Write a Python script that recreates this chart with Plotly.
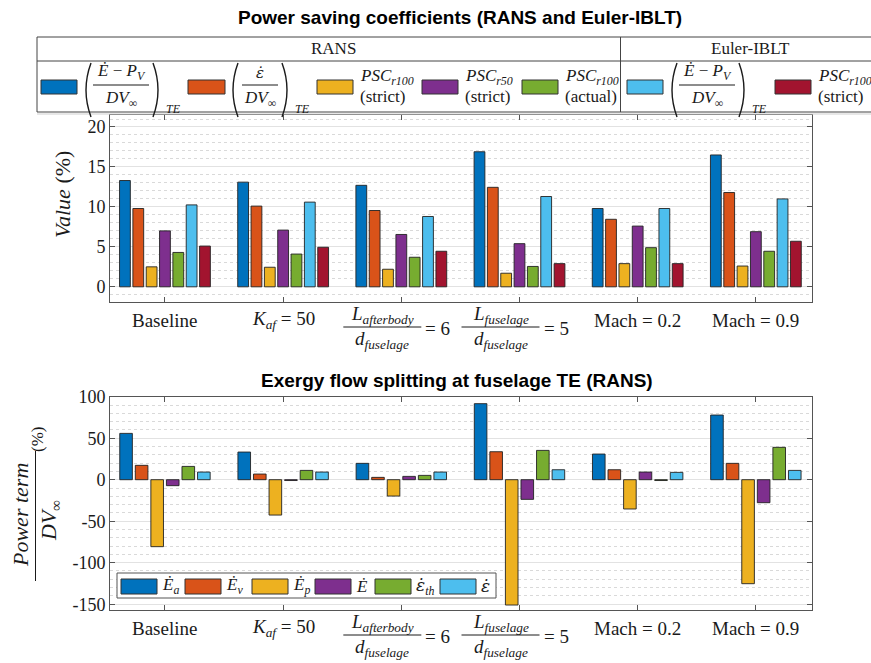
import plotly.graph_objects as go

# ---------------- data ----------------
categories = ["Baseline", "K_af = 50", "L_afterbody/d_fuselage = 6",
              "L_fuselage/d_fuselage = 5", "Mach = 0.2", "Mach = 0.9"]
cat_pos = [1, 2, 3, 4, 5, 6]

# top chart: power saving coefficients (%)
rans_e_minus_pv = [13.3, 13.1, 12.7, 16.9, 9.8, 16.5]
rans_eps = [9.8, 10.1, 9.55, 12.45, 8.45, 11.8]
rans_psc_r100_strict = [2.5, 2.45, 2.2, 1.7, 2.9, 2.6]
rans_psc_r50_strict = [7.0, 7.1, 6.55, 5.4, 7.6, 6.9]
rans_psc_r100_actual = [4.3, 4.1, 3.7, 2.55, 4.9, 4.45]
euler_e_minus_pv = [10.25, 10.6, 8.8, 11.3, 9.8, 11.0]
euler_psc_r100_strict = [5.1, 4.95, 4.45, 2.9, 2.9, 5.7]

# bottom chart: exergy flow splitting at fuselage TE (%)
Ea = [55.8, 33.3, 19.7, 91.6, 30.9, 77.9]
Ev = [17.3, 6.8, 2.8, 33.7, 12.0, 19.7]
Ep = [-80.7, -42.6, -19.7, -151.0, -35.3, -125.3]
Edot = [-7.2, -1.0, 4.0, -23.7, 9.2, -27.7]
eps_th = [16.0, 11.2, 5.2, 35.3, -1.0, 39.0]
eps = [9.2, 9.2, 9.2, 12.0, 8.8, 11.2]

top_yticks = [0, 5, 10, 15, 20]
bot_yticks = [-150, -100, -50, 0, 50, 100]
bot_yticklabels = ["-150", "-100", "-50", "0", "50", "100"]

# tick-label specs (simple text or fraction)
tick_labels = [
    {"text": "Baseline"},
    {"text": "<i>K<sub>af</sub></i> = 50"},
    {"num": "<i>L<sub>afterbody</sub></i>", "den": "<i>d<sub>fuselage</sub></i>", "eq": "= 6"},
    {"num": "<i>L<sub>fuselage</sub></i>", "den": "<i>d<sub>fuselage</sub></i>", "eq": "= 5"},
    {"text": "Mach = 0.2"},
    {"text": "Mach = 0.9"},
]

colors = ["#0072BD", "#D95319", "#EDB120", "#7E2F8E", "#77AC30", "#4DBEEE", "#A2142F"]

# ---------------- helpers ----------------
W, H = 871, 663
SERIF = "Liberation Serif"
SANS = "Liberation Sans"
TXT = "#1a1a1a"
EPS = '<span style="font-family:DejaVu Serif">ε\u0307</span>'


def X(px):
    return px / W


def Y(py):
    return 1 - py / H


fig = go.Figure()

top_series = [rans_e_minus_pv, rans_eps, rans_psc_r100_strict, rans_psc_r50_strict,
              rans_psc_r100_actual, euler_e_minus_pv, euler_psc_r100_strict]
for vals, c in zip(top_series, colors):
    fig.add_trace(go.Bar(x=cat_pos, y=vals, marker=dict(color=c, line=dict(color="#222", width=0.9)),
                         xaxis="x", yaxis="y", showlegend=False, hoverinfo="skip"))

bot_series = [Ea, Ev, Ep, Edot, eps_th, eps]
for vals, c in zip(bot_series, colors[:6]):
    fig.add_trace(go.Bar(x=cat_pos, y=vals, marker=dict(color=c, line=dict(color="#222", width=0.9)),
                         xaxis="x2", yaxis="y2", showlegend=False, hoverinfo="skip"))

shapes = []
annotations = []


def ann(text, x, y, size=16, family=SERIF, xanchor="center", yanchor="middle",
        xref="paper", yref="paper", xshift=0, textangle=0, color=TXT):
    annotations.append(dict(text=text, x=x, y=y, xref=xref, yref=yref, xanchor=xanchor,
                            yanchor=yanchor, showarrow=False, xshift=xshift, textangle=textangle,
                            font=dict(family=family, size=size, color=color)))


def hline(x0, x1, y, color=TXT, width=1):
    shapes.append(dict(type="line", xref="paper", yref="paper", x0=X(x0), x1=X(x1),
                       y0=Y(y), y1=Y(y), line=dict(color=color, width=width)))


def vline(x, y0, y1, color=TXT, width=1):
    shapes.append(dict(type="line", xref="paper", yref="paper", x0=X(x), x1=X(x),
                       y0=Y(y0), y1=Y(y1), line=dict(color=color, width=width)))


def swatch(x0, x1, y0, y1, color):
    shapes.append(dict(type="rect", xref="paper", yref="paper", x0=X(x0), x1=X(x1),
                       y0=Y(y1), y1=Y(y0), fillcolor=color, line=dict(color="#333", width=1)))


def paren(xa, xb, y0, y1):
    ym = (y0 + y1) / 2
    path = f"M {X(xa)},{Y(y0)} Q {X(xb)},{Y(ym)} {X(xa)},{Y(y1)}"
    shapes.append(dict(type="path", xref="paper", yref="paper", path=path,
                       line=dict(color=TXT, width=1.4)))


# ---------------- axes ----------------
axis_common = dict(showline=True, linecolor="#555", linewidth=1, mirror="ticks",
                   ticks="inside", tickcolor="#555", ticklen=5, zeroline=False,
                   automargin=False)

fig.update_layout(
    template="none",
    width=W, height=H, margin=dict(l=0, r=0, t=0, b=0, pad=0), autosize=False,
    paper_bgcolor="white", plot_bgcolor="white", showlegend=False,
    barmode="group", bargap=0.21, bargroupgap=0.19,
    xaxis=dict(domain=[X(110), X(812)], range=[0.535, 6.475], tickvals=cat_pos,
               showticklabels=False, showgrid=False, anchor="y", **axis_common),
    yaxis=dict(domain=[Y(302), Y(115)], range=[-1.9, 21.5], tickvals=top_yticks,
               tickfont=dict(family=SERIF, size=18, color=TXT), showgrid=True,
               gridcolor="#e2e2e2", gridwidth=1, anchor="x",
               minor=dict(dtick=1, tick0=0, showgrid=True, gridcolor="#d9d9d9",
                          griddash="dot", ticks=""),
               **axis_common),
    xaxis2=dict(domain=[X(110), X(812)], range=[0.535, 6.475], tickvals=cat_pos,
                showticklabels=False, showgrid=False, anchor="y2", **axis_common),
    yaxis2=dict(domain=[Y(610), Y(396.7)], range=[-157, 100], tickvals=bot_yticks,
                ticktext=bot_yticklabels,
                tickfont=dict(family=SERIF, size=18, color=TXT), showgrid=True,
                gridcolor="#e2e2e2", gridwidth=1, anchor="x2",
                minor=dict(dtick=10, tick0=0, showgrid=True, gridcolor="#d9d9d9",
                           griddash="dot", ticks=""),
                **axis_common),
)

# ---------------- titles ----------------
ann("<b>Power saving coefficients (RANS and Euler-IBLT)</b>", X(460), Y(17), size=19, family=SANS, color="#000")
ann("<b>Exergy flow splitting at fuselage TE (RANS)</b>", X(457), Y(381), size=19, family=SANS, color="#000")

# ---------------- y-axis titles ----------------
ann("<i>Value</i> (%)", X(62), Y(195), size=22, textangle=-90)
ann("<i>Power term</i>", X(20), Y(515), size=22, textangle=-90)
vline(35.5, 451, 581, width=1)
ann("<i>DV</i><sub>∞</sub>", X(50), Y(521), size=22, textangle=-90)
ann("(%)", X(37), Y(440), size=17, textangle=-90)

# ---------------- category tick labels ----------------
for xref, base in (("x", 320), ("x2", 628)):
    for pos, spec in zip(cat_pos, tick_labels):
        if "text" in spec:
            ann(spec["text"], pos, Y(base), size=19, xref=xref)
        else:
            ann(spec["num"], pos, Y(base - 5), size=19, xref=xref, xshift=-19)
            shapes.append(dict(type="line", xref=xref, xsizemode="pixel", xanchor=pos,
                               x0=-58, x1=20, yref="paper", y0=Y(base + 7), y1=Y(base + 7),
                               line=dict(color=TXT, width=1)))
            ann(spec["den"], pos, Y(base + 20), size=19, xref=xref, xshift=-19)
            ann(spec["eq"], pos, Y(base + 8), size=19, xref=xref, xshift=22, xanchor="left")

# ---------------- top legend (table) ----------------
shapes.append(dict(type="rect", xref="paper", yref="paper", x0=X(37), x1=X(880),
                   y0=Y(112), y1=Y(37), fillcolor="white", line=dict(color="#444", width=1)))
hline(37, 880, 61, color="#444")
vline(620.5, 37, 112, color="#444")
hline(37, 880, 114, color="#cfcfcf")
ann("RANS", X(333), Y(49), size=17)
ann("Euler-IBLT", X(750), Y(49), size=17)


def e_formula(dx, color):
    swatch(41 + dx, 77 + dx, 80, 94, color)
    paren(91 + dx, 81 + dx, 63, 117)
    ann("<i>Ė</i> − <i>P<sub>V</sub></i>", X(121 + dx), Y(72), size=17)
    hline(93 + dx, 149 + dx, 85)
    ann("<i>DV</i><sub>∞</sub>", X(121 + dx), Y(99), size=17)
    paren(153 + dx, 163 + dx, 63, 117)
    ann("<i>TE</i>", X(164 + dx), Y(109), size=12, xanchor="left")


e_formula(0, colors[0])
# eps / DV formula
swatch(188, 225, 80, 94, colors[1])
paren(238, 228, 63, 117)
ann(f"<i>{EPS}</i>", X(260), Y(73), size=15)
hline(242, 278, 85)
ann("<i>DV</i><sub>∞</sub>", X(260), Y(99), size=17)
paren(282, 292, 63, 117)
ann("<i>TE</i>", X(293), Y(109), size=12, xanchor="left")


def psc_item(x0, color, sub, note):
    swatch(x0, x0 + 36, 80, 94, color)
    ann(f"<i>PSC<sub>{sub}</sub></i>", X(x0 + 41), Y(77), size=17, xanchor="left")
    ann(note, X(x0 + 41), Y(96), size=17, xanchor="left")


psc_item(317, colors[2], "r100", "(strict)")
psc_item(422, colors[3], "r50", "(strict)")
psc_item(522, colors[4], "r100", "(actual)")
e_formula(586, colors[5])
psc_item(775, colors[6], "r100", "(strict)")

# ---------------- bottom legend ----------------
shapes.append(dict(type="rect", xref="paper", yref="paper", x0=X(117), x1=X(496),
                   y0=Y(598), y1=Y(573), fillcolor="white", line=dict(color="#555", width=1)))
bot_leg = [(121, "<i>Ė<sub>a</sub></i>"), (185, "<i>Ė<sub>v</sub></i>"), (252, "<i>Ė<sub>p</sub></i>"),
           (315, "<i>Ė</i>"), (375, f"<i>{EPS}<sub>th</sub></i>"), (440, f"<i>{EPS}</i>")]
for (x0, lab), c in zip(bot_leg, colors[:6]):
    swatch(x0, x0 + 36, 579, 594, c)
    ann(lab, X(x0 + 39), Y(586), size=17, xanchor="left")

fig.update_layout(shapes=shapes, annotations=annotations)
fig.write_html("out.html", config={"displayModeBar": False, "staticPlot": True},
               post_script="document.body.style.margin='0';document.body.style.overflow='hidden';")
